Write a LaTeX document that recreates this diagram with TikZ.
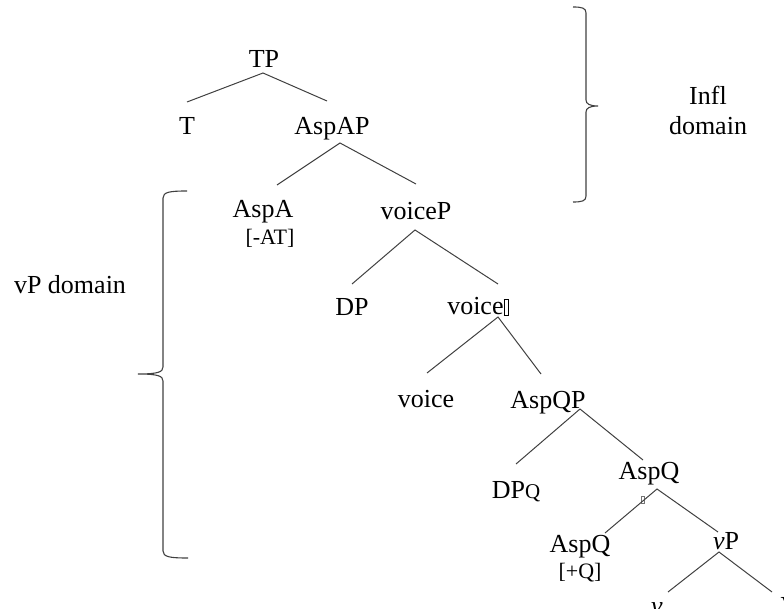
\documentclass[tikz,border=0pt]{standalone}
\usepackage{fontspec}
\setmainfont{Liberation Serif}
\newcommand{\missglyph}[2]{{\setlength\fboxsep{0pt}\setlength\fboxrule{0.6pt}\fbox{\rule{0pt}{#2}\hspace{#1}}}}
\begin{document}
\begin{tikzpicture}[x=1pt,y=-1pt,
  lab/.style={inner sep=0pt,anchor=base,font=\fontsize{26}{30}\selectfont},
  feat/.style={inner sep=0pt,anchor=base,font=\fontsize{22}{26}\selectfont},
  edge/.style={draw=black!75,line width=1pt},
  brace/.style={draw=black!75,line width=1.1pt}]
\useasboundingbox (0,0) rectangle (784,609);
\clip (0,0) rectangle (784,609);
% labels
\node[lab] (TP) at (264,68) {TP};
\node[lab] (T) at (187,135) {T};
\node[lab] (AspAP) at (332,135) {AspAP};
\node[lab] (AspA) at (263,218) {AspA};
\node[feat] (AT) at (270,245) {[-AT]};
\node[lab] (voiceP) at (416,220) {voiceP};
\node[lab] (DP) at (352,316) {DP};
\node[lab] (voicebar) at (478,315) {voice\missglyph{4pt}{15pt}};
\node[lab] (voice) at (426,407) {voice};
\node[lab] (AspQP) at (548,408) {AspQP};
\node[lab] (DPQ) at (516,498) {DP{\fontsize{21}{24}\selectfont Q}};
\node[lab] (AspQa) at (649,479) {AspQ};
\node[inner sep=0pt,anchor=center,text=black!55] (bar2) at (643,500) {\missglyph{2.5pt}{6pt}};
\node[lab] (AspQb) at (580,552) {AspQ};
\node[feat] (Q) at (580,578) {[+Q]};
\node[lab] (vP) at (726,549) {\textit{v}P};
\node[lab] (v) at (657,614) {\textit{v}};
\node[lab] (V) at (790,614) {V};
\node[lab] (infl) at (708,105) {Infl};
\node[lab] (domain) at (708,135) {domain};
\node[lab] (vPdom) at (70,294) {vP domain};
% edge endpoints
\coordinate (tpA) at (263,73);
\coordinate (tpL) at (187,102);
\coordinate (tpR) at (327,101);
\coordinate (aspA) at (340,143);
\coordinate (aspL) at (277,185);
\coordinate (aspR) at (416,184);
\coordinate (vpA) at (415,230);
\coordinate (vpL) at (352,284);
\coordinate (vpR) at (498,284);
\coordinate (vbA) at (498,317);
\coordinate (vbL) at (427,373);
\coordinate (vbR) at (541,374);
\coordinate (qpA) at (580,409);
\coordinate (qpL) at (516,464);
\coordinate (qpR) at (643,460);
\coordinate (qaA) at (657,489);
\coordinate (qaL) at (605,533);
\coordinate (qaR) at (718,532);
\coordinate (vA) at (719,552);
\coordinate (vL) at (668,592);
\coordinate (vR) at (772,592);
\draw[edge] (tpL) -- (tpA) -- (tpR);
\draw[edge] (aspL) -- (aspA) -- (aspR);
\draw[edge] (vpL) -- (vpA) -- (vpR);
\draw[edge] (vbL) -- (vbA) -- (vbR);
\draw[edge] (qpL) -- (qpA) -- (qpR);
\draw[edge] (qaL) -- (qaA) -- (qaR);
\draw[edge] (vL) -- (vA) -- (vR);
% braces
\draw[brace] (573,7) .. controls (582,7) and (586,8) .. (586,13) -- (586,100)
  .. controls (586,104) and (590,106) .. (598,106)
  .. controls (590,106) and (586,108) .. (586,112) -- (586,196)
  .. controls (586,201) and (582,202) .. (573,202);
\draw[brace] (187,191) .. controls (170,191) and (163,192) .. (163,198) -- (163,367)
  .. controls (163,372) and (158,374) .. (138,374)
  .. controls (158,374) and (163,376) .. (163,381) -- (163,551)
  .. controls (163,557) and (170,558) .. (188,558);
\end{tikzpicture}
\end{document}
